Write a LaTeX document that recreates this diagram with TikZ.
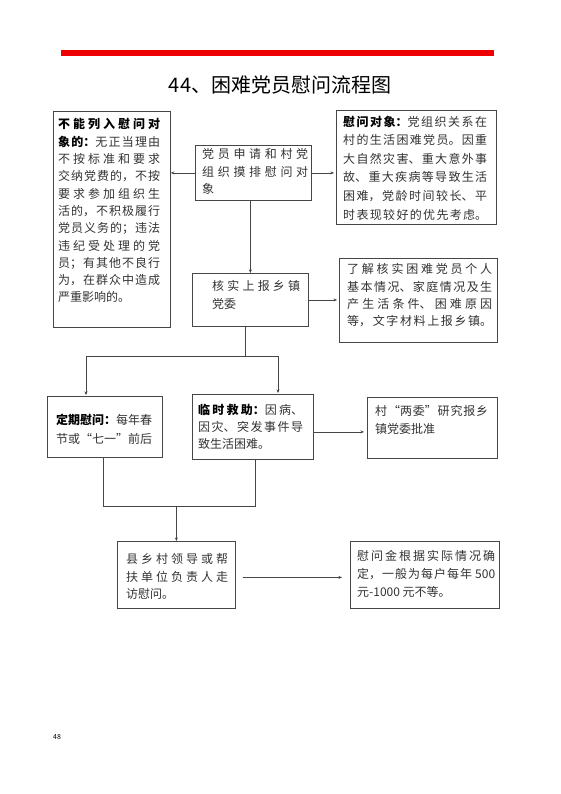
\documentclass[tikz,border=0pt]{standalone}
\usepackage{fontspec}
\setmainfont{Noto Sans CJK SC}
\usetikzlibrary{arrows.meta,positioning}
\usepackage{xcolor}
\definecolor{redbar}{RGB}{238,0,0}
\definecolor{frame}{RGB}{70,70,70}
\definecolor{ink}{RGB}{50,50,50}
\XeTeXlinebreaklocale "zh"
\XeTeXlinebreakskip=0pt plus 3pt
\newcommand{\head}[1]{\textbf{\color{black}#1}}

\begin{document}
\begin{tikzpicture}[x=1pt, y=-1pt,
    box/.style={draw=frame, line width=0.8pt, rectangle, anchor=north west, inner sep=0pt},
    txt/.style={anchor=north west, inner sep=0pt, align=justify, text=ink, font=\fontsize{12}{17.5}\selectfont},
    full/.style={execute at begin node={\parfillskip=0pt\relax}},
    arr/.style={draw=frame, line width=0.7pt, -{Stealth[length=3.5pt,width=3pt]}},
    link/.style={draw=frame, line width=0.7pt}]
\useasboundingbox (0,0) rectangle (561,794);
\draw[redbar, line width=5.5pt] (61,53) -- (494,53);
\node[font=\fontsize{20}{24}\selectfont] (title) at (280,85) {44、困难党员慰问流程图};

% frames
\foreach \n/\x/\y/\w/\h in {A/53/111/117/216, B/195/145/116/55, C/336/110/160/114, D/192/273/116/53, E/339/258/158/84, F/47/396/115/61, G/192/394/121/65, H/367/397/130/61, I/117/541/118/67, J/350/541/149/67}
    \node[box, minimum width=\w, minimum height=\h] (\n) at (\x,\y) {};

% texts
\node[txt, text width=102pt, font=\fontsize{12}{17.3}\selectfont] (At) at (58,118.5) {\head{不能列入慰问对}\linebreak \head{象的：}无正当理由\linebreak 不按标准和要求\linebreak 交纳党费的，不按\linebreak 要求参加组织生\linebreak 活的，不积极履行\linebreak 党员义务的；违法\linebreak 违纪受处理的党\linebreak 员；有其他不良行\linebreak 为，在群众中造成\linebreak 严重影响的。};
\node[txt, text width=106pt] (Bt) at (202,148.5) {党员申请和村党\linebreak 组织摸排慰问对\linebreak 象};
\node[txt, full, text width=144pt, font=\fontsize{12}{18.6}\selectfont] (Ct) at (343,115.5) {\head{慰问对象：}党组织关系在\linebreak 村的生活困难党员。因重\linebreak 大自然灾害、重大意外事\linebreak 故、重大疾病等导致生活\linebreak 困难，党龄时间较长、平\linebreak 时表现较好的优先考虑。};
\node[txt, text width=88pt, font=\fontsize{12}{18}\selectfont] (Dt) at (212,280.5) {核实上报乡镇\linebreak 党委};
\node[txt, full, text width=145pt, font=\fontsize{12}{17.3}\selectfont] (Et) at (347,263.5) {了解核实困难党员个人\linebreak 基本情况、家庭情况及生\linebreak 产生活条件、困难原因\linebreak 等，文字材料上报乡镇。};
\node[txt, full, text width=96pt, font=\fontsize{12}{19}\selectfont] (Ft) at (56,413.5) {\head{定期慰问：}每年春\linebreak 节或“七一”前后};
\node[txt, text width=105pt, font=\fontsize{12}{17}\selectfont] (Gt) at (198,403.5) {\head{临时救助：}因病、\linebreak 因灾、突发事件导\linebreak 致生活困难。};
\node[txt, text width=113pt, font=\fontsize{12}{18}\selectfont] (Ht) at (375,405.5) {村“两委”研究报乡\linebreak 镇党委批准};
\node[txt, text width=102pt] (It) at (126,553.5) {县乡村领导或帮\linebreak 扶单位负责人走\linebreak 访慰问。};
\node[txt, text width=138pt, font=\fontsize{12}{18}\selectfont] (Jt) at (357,550.5) {慰问金根据实际情况确\linebreak 定，一般为每户每年 500\linebreak 元-1000 元不等。};
\node[font=\fontsize{7}{8}\selectfont] (pageno) at (57,737) {48};

% connectors
\draw[arr] (B.west) -- (B.west -| A.east);
\draw[arr, shorten >=2pt] (B.east) -- (B.east -| C.west);
\draw[arr] (B.south -| D.north) -- (D.north);
\draw[arr, shorten >=2pt] (D.east) -- (D.east -| E.west);
\coordinate (split) at (245,356);
\coordinate (sl) at (86,356);
\coordinate (sr) at (278,356);
\draw[link] (split |- D.south) -- (split);
\draw[link] (sl) -- (sr);
\draw[arr, shorten >=1pt] (sl) -- (sl |- F.north);
\draw[arr, shorten >=1pt] (sr) -- (sr |- G.north);
\draw[arr, shorten >=3pt] ([yshift=-5pt]G.east) -- ([yshift=-5pt]G.east -| H.west);
\coordinate (ml) at (103,506);
\coordinate (mr) at (255,506);
\draw[link] (ml |- F.south) -- (ml) -- (mr) -- (mr |- G.south);
\draw[arr] (I.north |- ml) -- (I.north);
\draw[arr, shorten <=7pt, shorten >=8pt] ([yshift=-2.5pt]I.east) -- ([yshift=-2.5pt]I.east -| J.west);
\end{tikzpicture}
\end{document}
